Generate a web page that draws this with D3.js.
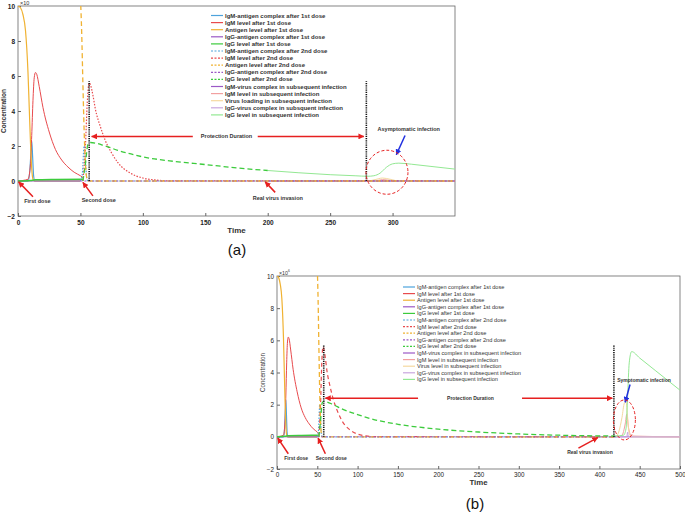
<!DOCTYPE html><html><head><meta charset="utf-8">
<script src="https://cdn.jsdelivr.net/npm/d3@7"></script>
<style>body{margin:0;background:#fff}text{font-family:Arial,"Liberation Sans",sans-serif}</style></head><body>
<svg id="c" width="685" height="513"></svg>
<script>
// ---------- Data (concentration ×10^?) ----------
const legendLabelsA = ["IgM-antigen complex after 1st dose","IgM level after 1st dose","Antigen level after 1st dose","IgG-antigen complex after 1st dose","IgG level after 1st dose","IgM-antigen complex after 2nd dose","IgM level after 2nd dose","Antigen level after 2nd dose","IgG-antigen complex after 2nd dose","IgG level after 2nd dose","IgM-virus complex in subsequent infection","IgM level in subsequent infection","Virus loading in subsequent infection","IgG-virus complex in subsquent infection","IgG level in subsequent infection"];
const legendLabelsB = ["IgM-antigen complex after 1st dose","IgM level after 1st dose","Antigen level after 1st dose","IgG-antigen complex after 1st dose","IgG level after 1st dose","IgM-antigen complex after 2nd dose","IgM level after 2nd dose","Antigen level after 2nd dose","IgG-antigen complex after 2nd dose","IgG level after 2nd dose","IgM-virus complex in subsequent infection","IgM level in subsequent infection","Virus level in subsequent infection","IgG-virus complex in subsequent infection","IgG level in subsequent infection"];
const xTicksA = [0,50,100,150,200,250,300];
const xTicksB = [0,50,100,150,200,250,300,350,400,450,500];
const yTicks = [-2,0,2,4,6,8,10];

const igmAg1 = [[0,0],[8,0],[9.5,0.6],[10.5,1.8],[11,2.3],[11.7,1.4],[12.5,0.3],[13.5,0],[50,0]];
const igm1 = [[0,0],[8,0.1],[10,1],[11,2.6],[12,4.6],[13,5.9],[14,6.2],[15,6.1],[17,5.4],[20,4.2],[25,2.8],[30,1.8],[35,1.2],[40,0.8],[45,0.5],[50,0.3],[52,0.2]];
const antigen1 = [[0,10],[2,9.9],[4,9.5],[6,8.6],[8,6.2],[9,4.2],[10,2.2],[11,0.7],[12,0.1],[13,0],[50,0]];
const iggAg1 = [[0,0],[50,0]];
const igg1 = [[0,0],[10,0.03],[14,0.07],[30,0.09],[52,0.1]];
const igmAg2 = [[50,0],[51.5,0.4],[53,2],[54,1.2],[55,0.2],[56,0],[420,0]];
const igm2 = [[52,0],[54,2],[55.5,4.5],[57,5.6],[58,5.5],[60,4.9],[62,4.1],[66,3.1],[70,2.3],[75,1.6],[80,1.05],[90,0.45],[100,0.17],[110,0.06],[120,0.01],[420,0]];
const antigen2 = [[50,10.5],[51,8.5],[52,5.5],[53,2.8],[54,1],[55,0.2],[56,0],[420,0]];
const iggAg2 = [[50,0],[420,0]];
const igg2A = [[52,0],[54,1],[56,2.1],[58,2.2],[70,2],[80,1.75],[100,1.38],[125,1.12],[150,0.94],[175,0.75],[200,0.6]];
const igg2B = [[52,0],[54,1],[56,2.1],[58,2.2],[70,2],[80,1.75],[100,1.38],[125,1.02],[150,0.78],[200,0.48],[250,0.3],[300,0.18],[350,0.1],[420,0.05]];
const imvA = [[200,0],[350,0]];
const imA = [[200,0],[285,0],[292,0.08],[300,0.03],[350,0]];
const virA = [[200,0],[280,0],[286,0.08],[292,0.17],[298,0.1],[305,0],[350,0]];
const igvA = [[200,0],[350,0]];
const iggSA = [[200,0.6],[225,0.47],[250,0.36],[270,0.3],[280,0.27],[285,0.3],[290,0.45],[295,0.78],[300,0.98],[305,1.02],[315,0.96],[330,0.84],[350,0.68]];
const imvB = [[420,0],[500,0]];
const imB = [[420,0],[428,0.1],[432,0.8],[434,1.4],[436,0.6],[440,0.05],[500,0]];
const virB = [[420,0],[424,0.3],[428,1.2],[431,2.1],[433,2.2],[435,1.2],[437,0.2],[440,0],[500,0]];
const igvB = [[420,0],[434,0],[435,0.3],[436,0],[500,0]];
const iggSB = [[420,0.05],[430,0.1],[433,0.5],[435,2.5],[437,4.6],[440,5.3],[450,4.9],[470,4.1],[485,3.5],[500,2.9]];

const C = {blue:"#4ea3dc",red:"#e84a4d",orange:"#f0b232",purple:"#9b59c6",green:"#3ccb3c",
  lblue:"#a7cfee",lred:"#f2a0a0",lorange:"#f5d9a0",lpurple:"#c9a6df",lgreen:"#93e893"};

function seriesList(sub, igg2){
  return [
    {d:igmAg1,c:C.blue,w:1.2},{d:igm1,c:C.red,w:1},{d:antigen1,c:C.orange,w:1.2},{d:iggAg1,c:C.purple,w:1},{d:igg1,c:C.green,w:1.5},
    {d:igmAg2,c:C.blue,w:1.2,da:"1.5,1.5"},{d:igm2,c:C.red,w:1.2,da:sub.igmDash},{d:antigen2,c:C.orange,w:1.3,da:"5,3"},{d:iggAg2,c:C.purple,w:1,da:"2,2"},{d:igg2,c:C.green,w:1.3,da:"5,3"},
    {d:sub.imv,c:C.purple,w:1},{d:sub.im,c:C.lred,w:1},{d:sub.vir,c:C.lorange,w:1},{d:sub.igv,c:C.lpurple,w:1},{d:sub.igg,c:C.lgreen,w:1}
  ];
}
const svg = d3.select("#c");
const defs = svg.append("defs");
["red","blue"].forEach(c=>defs.append("marker").attr("id","ar"+c).attr("viewBox","0 0 10 10").attr("refX",9).attr("refY",5).attr("markerWidth",4).attr("markerHeight",4).attr("orient","auto").append("path").attr("d","M0,0L10,5L0,10z").attr("fill",c==="red"?"#e62020":"#2030e0"));

function panel(o){
  const x = d3.scaleLinear().domain(o.xd).range([o.x0,o.x1]);
  const y = d3.scaleLinear().domain([-2,10]).range([o.y1,o.y0]);
  const g = svg.append("g");
  const cid = "clip"+o.id;
  g.append("clipPath").attr("id",cid).append("rect").attr("x",o.x0).attr("y",o.y0).attr("width",o.x1-o.x0).attr("height",o.y1-o.y0);
  g.append("rect").attr("x",o.x0).attr("y",o.y0).attr("width",o.x1-o.x0).attr("height",o.y1-o.y0).attr("fill","#fff").attr("stroke","#666").attr("stroke-width",0.8);
  const ax = g.append("g").attr("transform",`translate(0,${o.y1})`).call(d3.axisBottom(x).tickValues(o.xt).tickSize(-3).tickPadding(4));
  const ay = g.append("g").attr("transform",`translate(${o.x0},0)`).call(d3.axisLeft(y).tickValues(o.yt).tickSize(-3).tickPadding(3));
  [ax,ay].forEach(a=>{a.select(".domain").remove();a.selectAll("line").attr("stroke","#666");a.selectAll("text").attr("font-size",o.fs).attr("font-weight",o.fw).attr("fill","#222");});
  g.append("text").attr("x",(o.x0+o.x1)/2).attr("y",o.y1+o.fs+10).attr("text-anchor","middle").attr("font-size",o.fs+1.5).attr("font-weight","bold").attr("fill","#333").text("Time");
  g.append("text").attr("transform",`translate(${o.ylx},${(o.y0+o.y1)/2}) rotate(-90)`).attr("text-anchor","middle").attr("font-size",o.fs).attr("font-weight",o.fw).attr("fill","#333").text("Concentration");
  g.append("text").attr("x",o.x0+2).attr("y",o.y0-1).attr("font-size",o.fs-1).attr("fill","#333").text("×10").append("tspan").attr("dy",-3).attr("font-size",o.fs-3).text(o.exp);
  const cg = g.append("g").attr("clip-path",`url(#${cid})`);
  const line = d3.line().x(d=>x(d[0])).y(d=>y(d[1])).curve(d3.curveMonotoneX);
  const S = o.series;
  [...S.slice(10),...S.slice(0,10)].forEach(s=>cg.append("path").attr("d",line(s.d)).attr("fill","none").attr("stroke",s.c).attr("stroke-width",s.w).attr("stroke-dasharray",s.da||null));
  o.vlines.forEach(v=>cg.append("line").attr("x1",x(v)).attr("x2",x(v)).attr("y1",y(0)).attr("y2",y(5.7)).attr("stroke","#111").attr("stroke-width",1.6).attr("stroke-dasharray","1.2,1"));
  S.forEach((s,i)=>{
    const yy=o.lg.y+i*o.lg.dy;
    g.append("line").attr("x1",o.lg.x).attr("x2",o.lg.x+12).attr("y1",yy).attr("y2",yy).attr("stroke",s.c).attr("stroke-width",1.2).attr("stroke-dasharray",s.da?"2,1.5":null);
    g.append("text").attr("x",o.lg.x+14).attr("y",yy+2).attr("font-size",o.lg.fs).attr("font-weight",o.fw).attr("fill","#333").text(o.labels[i]);
  });
  o.arrows.forEach(a=>g.append("line").attr("x1",x(a[0])).attr("y1",y(a[1])).attr("x2",x(a[2])).attr("y2",y(a[3])).attr("stroke",a[4]==="b"?"#2030e0":"#e62020").attr("stroke-width",1.5).attr("marker-end",`url(#ar${a[4]==="b"?"blue":"red"})`));
  o.texts.forEach(t=>g.append("text").attr("x",x(t[0])).attr("y",y(t[1])).attr("text-anchor",t[3]||"start").attr("font-size",o.afs).attr("font-weight","bold").attr("fill","#333").text(t[2]));
  g.append("ellipse").attr("cx",x(o.ell[0])).attr("cy",y(o.ell[1])).attr("rx",o.ell[2]).attr("ry",o.ell[3]).attr("fill","none").attr("stroke","#e62020").attr("stroke-width",1).attr("stroke-dasharray","3,2");
  svg.append("text").attr("x",o.cap[0]).attr("y",o.cap[1]).attr("text-anchor","middle").attr("font-family","Liberation Serif,serif").attr("font-size",15).attr("fill","#111").text(o.cap[2]);
}

panel({id:"a",xd:[0,350],x0:18,x1:455,y0:6,y1:216,xt:xTicksA,yt:yTicks,fs:6.5,fw:"bold",ylx:6,exp:"",afs:5.5,
  series:seriesList({imv:imvA,im:imA,vir:virA,igv:igvA,igg:iggSA,igmDash:"1.5,1.5"},igg2A),
  labels:legendLabelsA,lg:{x:211,y:15.5,dy:7.1,fs:6},vlines:[57,279],
  arrows:[[12,-0.9,0.5,-0.05],[60,-0.85,52,-0.08],[206,-0.65,198,-0.05],[140,2.55,59,2.55],[192,2.55,277,2.55],[310,2.6,303,1.5,"b"]],
  texts:[[5,-1.25,"First dose"],[51,-1.2,"Second dose"],[188,-1.1,"Real virus invasion"],[167,2.45,"Protection Duration","middle"],[288,2.85,"Asymptomatic infection"]],
  ell:[295.5,0.5,21,22],cap:[237,255,"(a)"]});

panel({id:"b",xd:[0,500],x0:277,x1:680,y0:276,y1:469,xt:xTicksB,yt:yTicks,fs:6.3,fw:"normal",ylx:265,exp:"6",afs:5,
  series:seriesList({imv:imvB,im:imB,vir:virB,igv:igvB,igg:iggSB,igmDash:"4,3"},igg2B),
  labels:legendLabelsB,lg:{x:403,y:287,dy:6.6,fs:5.6},vlines:[58,418],
  arrows:[[14,-1.05,1,-0.08],[60,-1.05,51,-0.08],[374,-0.7,398,-0.05],[175,2.4,60,2.4],[304,2.4,416,2.4],[438,3.25,432,2.15,"b"]],
  texts:[[9,-1.45,"First dose"],[48,-1.45,"Second dose"],[360,-1.05,"Real virus invasion"],[240,2.3,"Protection Duration","middle"],[422,3.4,"Symptomatic infection"]],
  ell:[431,1.05,11,20],cap:[475,509,"(b)"]});
</script></body></html>
